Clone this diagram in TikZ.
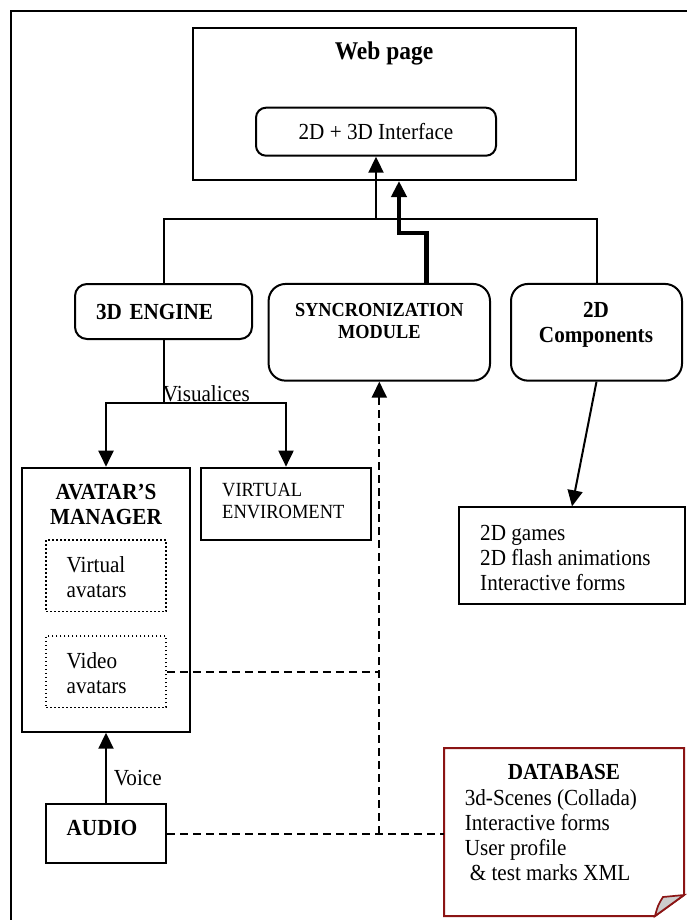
\documentclass[tikz,border=0pt]{standalone}
\usepackage{fontspec}
\setmainfont[FakeStretch=0.92]{Liberation Serif}
\usetikzlibrary{arrows.meta}
\definecolor{dbred}{RGB}{139,20,20}

\begin{document}
\begin{tikzpicture}[x=1pt, y=-1pt, >={Triangle[length=16pt,width=15pt]},
    box/.style={draw, line width=2pt, inner sep=0pt, align=left, font=\fontsize{23pt}{25pt}\selectfont},
    rbox/.style={box, rounded corners=12pt},
    dotbox/.style={draw, line width=1.6pt, dash pattern=on 1.6pt off 2.4pt, inner sep=0pt},
    txt/.style={inner sep=0pt, align=left, font=\fontsize{23pt}{25pt}\selectfont},
    btxt/.style={inner sep=0pt, align=center, font=\fontsize{23pt}{25pt}\selectfont\bfseries},
    line/.style={line width=2pt},
    dline/.style={line width=2pt, dash pattern=on 8pt off 5pt}]
    \useasboundingbox (0,0) rectangle (686,920);

    % 外框
    \draw[line width=2pt] (10.5,10.7) rectangle (720,960);

    % 网页
    \node[box, minimum width=383pt, minimum height=152pt] (web) at (384,104) {};
    \node[btxt, font=\fontsize{25.5pt}{28pt}\selectfont\bfseries] (webtitle) at (384,53) {Web page};
    \node[rbox, rounded corners=10pt, minimum width=240pt, minimum height=48pt] (iface) at (376,131.7) {2D + 3D Interface};

    % 中间三个模块
    \node[rbox, minimum width=177pt, minimum height=55pt, text width=135pt, font=\fontsize{23pt}{25pt}\selectfont\bfseries] (eng) at (163.5,311.5) {3D ENGINE};
    \node[rbox, rounded corners=17pt, minimum width=221.4pt, minimum height=96.7pt] (sync) at (379.3,332.3) {};
    \node[btxt, font=\fontsize{19.9pt}{21.7pt}\selectfont\bfseries] (synctxt) at (379.3,321) {SYNCRONIZATION\\MODULE};
    \node[rbox, rounded corners=17pt, minimum width=171pt, minimum height=96.7pt] (comp) at (596.5,332.3) {};
    \node[btxt] (comptxt) at (596,324.5) {2D\\Components};

    % 左侧
    \node[box, minimum width=168pt, minimum height=264pt] (avm) at (106,599.7) {};
    \node[btxt] (avmtxt) at (106,504) {AVATAR’S\\MANAGER};
    \node[dotbox, minimum width=120pt, minimum height=71.7pt] (vav) at (106,575.8) {};
    \node[txt, anchor=west] (vavtxt) at (66.5,577) {Virtual\\avatars};
    \node[dotbox, minimum width=120pt, minimum height=71.3pt] (vid) at (106,671.7) {};
    \node[txt, anchor=west] (vidtxt) at (66.5,673) {Video\\avatars};
    \node[box, minimum width=170pt, minimum height=72.3pt] (venv) at (286,503.8) {};
    \node[txt, anchor=west, font=\fontsize{20.1pt}{21.7pt}\selectfont] (venvtxt) at (222,501) {VIRTUAL\\ENVIROMENT};
    \node[box, minimum width=120pt, minimum height=59.3pt] (audio) at (106,833.7) {};
    \node[btxt, anchor=west] (audiotxt) at (66.5,828.3) {AUDIO};

    % 右侧
    \node[box, minimum width=226pt, minimum height=96.7pt] (games) at (572,555.7) {};
    \node[txt, anchor=west] (gamestxt) at (480,557.7) {2D games\\2D flash animations\\Interactive forms};

    % 数据库
    \node[minimum width=240pt, minimum height=168pt, inner sep=0pt] (db) at (564,832) {};
    \draw[dbred, line width=2pt, fill=white] (444,748) -- (684,748) -- (684,895) -- (655,916) -- (444,916) -- cycle;
    \draw[dbred, line width=1.7pt, fill=black!20] (655,916) .. controls (658,905) .. (663,897) -- (684,895) -- cycle;
    \node[btxt] (dbtitle) at (564,771.7) {DATABASE};
    \node[txt, anchor=west] (dbtxt) at (464.6,835) {3d-Scenes (Collada)\\Interactive forms\\User profile\\\hspace*{5pt}\& test marks XML};

    % 连线
    \coordinate (jtop) at (376,219);
    \draw[line] (eng.north) |- (jtop) -| (comp.north);
    \draw[line, ->] (jtop) -- (iface.south);
    \coordinate (tk1) at (426.5,233);
    \coordinate (tk2) at (399,233);
    \draw[line width=4.5pt, ->] (tk1 |- sync.north) -- (tk1) -- (tk2) -- (tk2 |- web.south);

    \coordinate (vis) at (163.5,403.3);
    \draw[line] (eng.south) -- (vis);
    \draw[line, ->] (vis) -| (avm.north);
    \draw[line, ->] (vis) -| (venv.north);
    \node[txt, anchor=base west] (vislbl) at (162.7,401) {Visualices};

    \draw[line, ->] (audio.north) -- (avm.south);
    \node[txt, anchor=west] (voice) at (113.7,778.3) {Voice};

    \draw[line, ->] (comp.south) -- (games.north);

    % 虚线
    \coordinate (dv) at (sync.south |- audio.east);
    \draw[dline] (audio.east) -- (audio.east -| db.west);
    \draw[dline, ->] (dv) -- (sync.south);
    \draw[dline] (vid.east) -- (vid.east -| sync.south);
\end{tikzpicture}
\end{document}
